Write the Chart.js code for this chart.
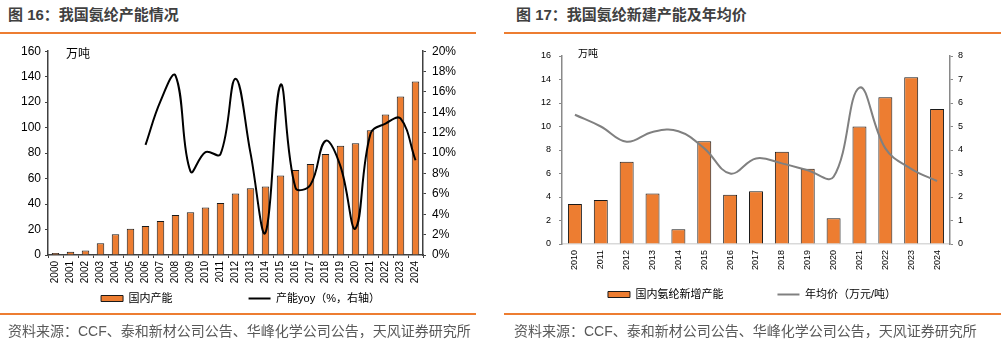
<!DOCTYPE html>
<html>
<head>
<meta charset="utf-8">
<script src="https://cdn.jsdelivr.net/npm/chart.js@4"></script>
<style>
  body { margin: 0; background: #fff; width: 1005px; height: 345px; position: relative; overflow: hidden;
         font-family: "Liberation Sans", "Noto Sans CJK SC", sans-serif; }
  .title { position: absolute; top: 5px; line-height: 20px; font-size: 15px; font-weight: bold; color: #404040; }
  .rule { position: absolute; height: 1.5px; background: #ED7D31; }
  .source { position: absolute; top: 321px; line-height: 20px; font-size: 14px; color: #595959; }
  .box { position: absolute; }
</style>
</head>
<body>
<div class="title" style="left:8px">图 16：我国氨纶产能情况</div>
<div class="rule" style="left:0;width:476px;top:32px"></div>
<div class="title" style="left:516px">图 17：我国氨纶新建产能及年均价</div>
<div class="rule" style="left:504px;width:497px;top:32px"></div>

<div class="box" style="left:0;top:38px;width:480px;height:276px"><canvas id="capChart"></canvas></div>
<div class="box" style="left:500px;top:38px;width:505px;height:272px"><canvas id="newChart"></canvas></div>

<div class="rule" style="left:0;width:476px;top:313px"></div>
<div class="source" style="left:8px">资料来源：CCF、泰和新材公司公告、华峰化学公司公告，天风证券研究所</div>
<div class="rule" style="left:504px;width:497px;top:313px"></div>
<div class="source" style="left:514px">资料来源：CCF、泰和新材公司公告、华峰化学公司公告，天风证券研究所</div>

<script>
// 国内产能（万吨）及同比
const capYears = ['2000', '2001', '2002', '2003', '2004', '2005', '2006', '2007', '2008', '2009', '2010', '2011', '2012',
  '2013', '2014', '2015', '2016', '2017', '2018', '2019', '2020', '2021', '2022', '2023', '2024'];
const capacity = [1.5, 2.5, 3.5, 9.3, 16.3, 20.7, 22.8, 26.6, 31.5, 33.6, 37.3, 40.9, 48.2,
  52.5, 53.8, 62.4, 66.8, 71.5, 79.2, 85.7, 87.8, 97.9, 110.3, 124.5, 136.2];
const capacityYoy = [null, null, null, null, null, null, 10.8, 15.1, 17.6, 8.2, 10.1, 9.9, 17.3,
  10.0, 2.2, 16.7, 6.6, 6.9, 11.2, 8.7, 2.6, 11.9, 12.9, 13.4, 9.3];

// 新增产能（万吨）及年均价（万元/吨）
const newYears = ['2010', '2011', '2012', '2013', '2014', '2015', '2016', '2017', '2018', '2019', '2020', '2021',
  '2022', '2023', '2024'];
const newCapacity = [3.4, 3.75, 7.0, 4.3, 1.25, 8.75, 4.2, 4.5, 7.85, 6.4, 2.2, 10.0, 12.5, 14.2, 11.5];
const avgPrice = [5.5, 5.0, 4.35, 4.77, 4.8, 4.07, 3.0, 3.64, 3.43, 3.14, 2.86, 6.65, 4.07, 3.2, 2.68];

const ORANGE = '#ED7D31';
const BASE_FONT = '"Liberation Sans", "Noto Sans CJK SC", sans-serif';

// unit text in the top-left corner of the plot
const unitLabel = {
  id: 'unitLabel',
  afterDraw(chart, args, opts) {
    const { ctx, chartArea } = chart;
    ctx.save();
    ctx.font = opts.size + 'px ' + BASE_FONT;
    ctx.fillStyle = '#000';
    ctx.textBaseline = 'middle';
    ctx.fillText(opts.text, chartArea.left + opts.dx, chartArea.top + opts.dy);
    ctx.restore();
  }
};

function legendLabels(gap) {
  return {
    font: { size: 11, family: BASE_FONT },
    color: '#000',
    usePointStyle: true,
    pointStyleWidth: 22,
    boxHeight: 6,
    padding: 10,
    generateLabels(chart) {
      const items = Chart.defaults.plugins.legend.labels.generateLabels(chart);
      items.sort((a, b) => a.datasetIndex - b.datasetIndex);
      items[0].text += gap;
      items[0].pointStyle = 'rect';
      items[1].pointStyle = 'line';
      return items;
    }
  };
}

new Chart(document.getElementById('capChart'), {
  data: {
    labels: capYears,
    datasets: [
      {
        type: 'bar',
        label: '国内产能',
        data: capacity,
        backgroundColor: ORANGE,
        borderColor: '#1a1a1a',
        borderWidth: 1,
        barPercentage: 0.5,
        categoryPercentage: 1,
        yAxisID: 'y',
        order: 1
      },
      {
        type: 'line',
        label: '产能yoy（%，右轴）',
        data: capacityYoy,
        borderColor: '#000',
        borderWidth: 2,
        pointRadius: 0,
        tension: 0.4,
        yAxisID: 'y1',
        order: 0
      }
    ]
  },
  options: {
    responsive: true,
    maintainAspectRatio: false,
    animation: false,
    layout: { padding: { left: 6, right: 5, top: 10, bottom: 0 } },
    scales: {
      x: {
        grid: { drawOnChartArea: false, drawTicks: true, tickLength: 3, color: '#404040', offset: true },
        border: { color: '#404040', width: 1.5 },
        ticks: { minRotation: 90, maxRotation: 90, padding: 3, color: '#000', font: { size: 10, family: BASE_FONT } },
        afterFit(scale) { scale.height = 28; }
      },
      y: {
        position: 'left',
        min: 0, max: 160,
        grid: { drawOnChartArea: false, tickLength: 3, color: '#404040' },
        border: { color: '#404040', width: 1.5 },
        ticks: { stepSize: 20, padding: 4, color: '#000', font: { size: 12, family: BASE_FONT } },
        afterFit(scale) { scale.width = 42; }
      },
      y1: {
        position: 'right',
        min: 0, max: 20,
        grid: { drawOnChartArea: false, tickLength: 3, color: '#404040' },
        border: { color: '#404040', width: 1.5 },
        ticks: { stepSize: 2, padding: 6, color: '#000', font: { size: 12, family: BASE_FONT },
                 callback: v => v + '%' },
        afterFit(scale) { scale.width = 52; }
      }
    },
    plugins: {
      legend: { position: 'bottom', labels: legendLabels('\u3000'.repeat(6)) },
      tooltip: { enabled: false },
      unitLabel: { text: '万吨', size: 12, dx: 18, dy: 3 }
    }
  },
  plugins: [unitLabel]
});

new Chart(document.getElementById('newChart'), {
  data: {
    labels: newYears,
    datasets: [
      {
        type: 'bar',
        label: '国内氨纶新增产能',
        data: newCapacity,
        backgroundColor: ORANGE,
        borderColor: '#1a1a1a',
        borderWidth: 1,
        barPercentage: 0.54,
        categoryPercentage: 1,
        yAxisID: 'y',
        order: 1
      },
      {
        type: 'line',
        label: '年均价（万元/吨）',
        data: avgPrice,
        borderColor: '#808080',
        borderWidth: 2,
        pointRadius: 0,
        tension: 0.4,
        yAxisID: 'y1',
        order: 0
      }
    ]
  },
  options: {
    responsive: true,
    maintainAspectRatio: false,
    animation: false,
    layout: { padding: { left: 4, right: 5, top: 18, bottom: 0 } },
    scales: {
      x: {
        grid: { drawOnChartArea: false, drawTicks: false },
        border: { color: '#d9d9d9', width: 1.5 },
        ticks: { minRotation: 90, maxRotation: 90, padding: 6, color: '#000', font: { size: 9, family: BASE_FONT } },
        afterFit(scale) { scale.height = 35; }
      },
      y: {
        position: 'left',
        min: 0, max: 16,
        grid: { drawOnChartArea: false, tickLength: 3, color: '#898989' },
        border: { color: '#898989', width: 1.5 },
        ticks: { stepSize: 2, padding: 8, color: '#000', font: { size: 9, family: BASE_FONT } },
        afterFit(scale) { scale.width = 58; }
      },
      y1: {
        position: 'right',
        min: 0, max: 8,
        grid: { drawOnChartArea: false, tickLength: 3, color: '#898989' },
        border: { color: '#898989', width: 1.5 },
        ticks: { stepSize: 1, padding: 5, color: '#000', font: { size: 9, family: BASE_FONT } },
        afterFit(scale) { scale.width = 50; }
      }
    },
    plugins: {
      legend: { position: 'bottom', labels: legendLabels('\u3000'.repeat(4)) },
      tooltip: { enabled: false },
      unitLabel: { text: '万吨', size: 10, dx: 16, dy: -2 }
    }
  },
  plugins: [unitLabel]
});
</script>
</body>
</html>
